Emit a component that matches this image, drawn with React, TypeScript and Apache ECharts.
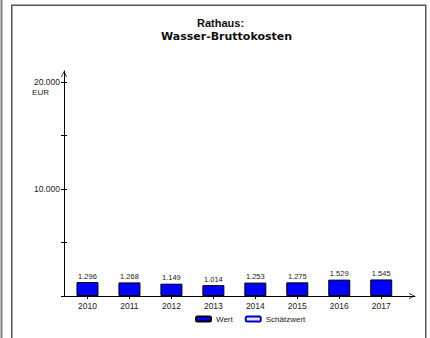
import React, { useEffect, useRef } from "react";
import * as echarts from "echarts";

const categories = ["2010", "2011", "2012", "2013", "2014", "2015", "2016", "2017"];
const wertValues = [1296, 1268, 1149, 1014, 1253, 1275, 1529, 1545];
const schaetzValues: number[] = [];
const yTickValues = [10000, 20000];
const yUnit = "EUR";
const titleLine1 = "Rathaus:";
const titleLine2 = "Wasser-Bruttokosten";
const seriesNames = ["Wert", "Schätzwert"];

const fmt = (n: number) => String(n).replace(/\B(?=(\d{3})+(?!\d))/g, ".");

const FONT = "'Liberation Sans', Arial, sans-serif";
const CHEVRON = "path://M0,8 L4,0 L8,8 L7,8 L4,2 L1,8 Z";

export default function App() {
  const ref = useRef<HTMLDivElement>(null);
  useEffect(() => {
    if (!ref.current) return;
    const chart = echarts.init(ref.current, undefined, { renderer: "svg" });
    const arrowLine = {
      show: true,
      symbol: ["none", CHEVRON],
      symbolSize: [6, 6],
      symbolOffset: [0, -3],
      lineStyle: { color: "#000", width: 1 },
    };
    chart.setOption({
      animation: false,
      backgroundColor: "#fff",
      title: [
        {
          text: titleLine1,
          left: 197,
          top: 17,
          padding: 0,
          textStyle: { fontFamily: FONT, fontWeight: "bold", fontSize: 11, color: "#111" },
        },
        {
          text: titleLine2,
          left: 161,
          top: 31,
          padding: 0,
          textStyle: { fontFamily: "'DejaVu Sans', sans-serif", fontWeight: "bold", fontSize: 11, color: "#111" },
        },
      ],
      legend: {
        data: seriesNames,
        left: 195,
        top: 315,
        padding: 0,
        itemWidth: 15,
        itemHeight: 5,
        itemGap: 12,
        textStyle: { fontFamily: FONT, fontSize: 8, color: "#222" },
      },
      grid: [
        { left: 66.5, width: 335.7, top: 82, bottom: 42 },
        { left: 64, right: 15, top: 71, bottom: 42 },
      ],
      xAxis: [
        {
          type: "category",
          gridIndex: 0,
          data: categories,
          axisLine: { show: false },
          axisTick: { show: true, alignWithLabel: true, length: 3, lineStyle: { color: "#000" } },
          axisLabel: { fontFamily: FONT, fontSize: 8.5, color: "#222", margin: 5 },
          splitLine: { show: false },
        },
        {
          type: "value",
          gridIndex: 1,
          min: 0,
          max: 1,
          axisLine: arrowLine,
          axisTick: { show: false },
          axisLabel: { show: false },
          splitLine: { show: false },
        },
      ],
      yAxis: [
        {
          type: "value",
          gridIndex: 0,
          position: "left",
          min: 0,
          max: 20000,
          interval: 5000,
          offset: 2.5,
          axisLine: { show: false },
          axisTick: { show: true, length: 3, lineStyle: { color: "#000" } },
          axisLabel: {
            fontFamily: FONT,
            fontSize: 8.5,
            color: "#222",
            margin: 4,
            formatter: (v: number) => (yTickValues.includes(v) ? fmt(v) : ""),
          },
          splitLine: { show: false },
        },
        {
          type: "value",
          gridIndex: 0,
          position: "left",
          min: 0,
          max: 20000,
          interval: 5000,
          offset: 2.5,
          axisLine: { show: false },
          axisTick: { show: true, inside: true, length: 3, lineStyle: { color: "#000" } },
          axisLabel: {
            fontFamily: FONT,
            fontSize: 8,
            color: "#222",
            margin: 15,
            verticalAlign: "top",
            padding: [6, 0, 0, 0],
            formatter: (v: number) => (v === yTickValues[yTickValues.length - 1] ? yUnit : ""),
          },
          splitLine: { show: false },
        },
        {
          type: "value",
          gridIndex: 1,
          position: "left",
          min: 0,
          max: 1,
          axisLine: arrowLine,
          axisTick: { show: false },
          axisLabel: { show: false },
          splitLine: { show: false },
        },
      ],
      graphic: [
        {
          type: "line",
          shape: { x1: 1.5, y1: 0, x2: 1.5, y2: 338 },
          style: { stroke: "#808080", lineWidth: 2 },
          silent: true,
        },
        {
          type: "rect",
          shape: { x: 11.75, y: 5.25, width: 414, height: 400 },
          style: { fill: "none", stroke: "#555", lineWidth: 1.5 },
          silent: true,
        },
      ],
      series: [
        {
          name: seriesNames[0],
          type: "bar",
          xAxisIndex: 0,
          yAxisIndex: 0,
          stack: "s",
          barWidth: 22,
          data: wertValues,
          itemStyle: { color: "#0000ff", borderColor: "#000", borderWidth: 1 },
          label: {
            show: true,
            position: "top",
            distance: 2,
            fontFamily: FONT,
            fontSize: 7.5,
            color: "#222",
            formatter: (p: any) => fmt(p.value),
          },
        },
        {
          name: seriesNames[1],
          type: "bar",
          xAxisIndex: 0,
          yAxisIndex: 0,
          stack: "s",
          barWidth: 22,
          data: schaetzValues,
          itemStyle: { color: "#dde0ff", borderColor: "#0000c0", borderWidth: 1.2 },
        },
      ],
    });
    return () => chart.dispose();
  }, []);
  return (
    <div
      ref={ref}
      style={{ position: "fixed", left: 0, top: 0, width: 430, height: 338, background: "#fff" }}
    />
  );
}
